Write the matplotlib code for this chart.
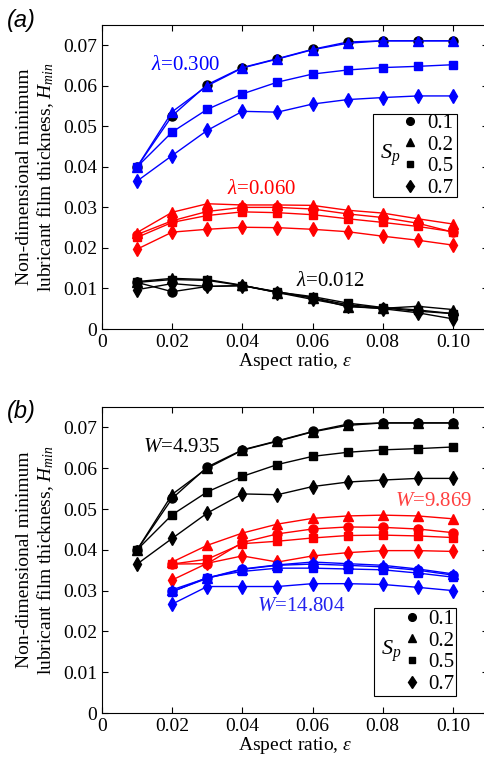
"""
Minimum film thickness H_min vs aspect ratio for several S_p values.
(a) grouped by lambda, (b) grouped by load W.
"""

import matplotlib.pyplot as plt
from matplotlib.lines import Line2D
from matplotlib.patches import Rectangle

plt.rcParams["font.family"] = ["Liberation Serif", "DejaVu Serif"]
plt.rcParams["mathtext.fontset"] = "custom"
plt.rcParams["mathtext.rm"] = "Liberation Serif"
plt.rcParams["mathtext.it"] = "Liberation Serif:italic"

eps = [0.01, 0.02, 0.03, 0.04, 0.05, 0.06, 0.07, 0.08, 0.09, 0.10]
eps_b = eps[1:]  # W=9.869 and W=14.804 start at 0.02

sp_labels = ["0.1", "0.2", "0.5", "0.7"]
sp_markers = ["o", "^", "s", "d"]
sp_sizes = [6.5, 6.5, 5.5, 7.5]

# (a) lambda = 0.300
lam300_01 = [0.0400, 0.0526, 0.0603, 0.0645, 0.0667, 0.0690, 0.0708, 0.0711, 0.0711, 0.0711]
lam300_02 = [0.0400, 0.0536, 0.0600, 0.0644, 0.0666, 0.0689, 0.0705, 0.0711, 0.0711, 0.0711]
lam300_05 = [0.0400, 0.0486, 0.0542, 0.0580, 0.0609, 0.0629, 0.0639, 0.0645, 0.0648, 0.0652]
lam300_07 = [0.0365, 0.0428, 0.0490, 0.0537, 0.0535, 0.0555, 0.0566, 0.0571, 0.0575, 0.0575]

# (a) lambda = 0.060
lam060_01 = [0.0233, 0.0267, 0.0290, 0.0300, 0.0300, 0.0296, 0.0284, 0.0275, 0.0261, 0.0239]
lam060_02 = [0.0238, 0.0288, 0.0309, 0.0306, 0.0306, 0.0305, 0.0293, 0.0286, 0.0272, 0.0259]
lam060_05 = [0.0226, 0.0263, 0.0280, 0.0289, 0.0287, 0.0282, 0.0272, 0.0263, 0.0253, 0.0240]
lam060_07 = [0.0197, 0.0239, 0.0246, 0.0251, 0.0250, 0.0246, 0.0240, 0.0229, 0.0219, 0.0207]

# (a) lambda = 0.012
lam012_01 = [0.0115, 0.0092, 0.0105, 0.0107, 0.0092, 0.0077, 0.0060, 0.0052, 0.0044, 0.0038]
lam012_02 = [0.0117, 0.0125, 0.0122, 0.0108, 0.0090, 0.0077, 0.0055, 0.0051, 0.0056, 0.0048]
lam012_05 = [0.0115, 0.0122, 0.0120, 0.0107, 0.0091, 0.0080, 0.0064, 0.0053, 0.0047, 0.0038]
lam012_07 = [0.0097, 0.0112, 0.0105, 0.0107, 0.0090, 0.0073, 0.0057, 0.0050, 0.0040, 0.0025]

# (b) W = 4.935 (same curves as lambda = 0.300)
w4935_01 = lam300_01
w4935_02 = lam300_02
w4935_05 = lam300_05
w4935_07 = lam300_07

# (b) W = 9.869
w9869_01 = [0.0365, 0.0366, 0.0418, 0.0439, 0.0451, 0.0456, 0.0455, 0.0451, 0.0442]
w9869_02 = [0.0370, 0.0411, 0.0441, 0.0463, 0.0477, 0.0483, 0.0485, 0.0483, 0.0476]
w9869_05 = [0.0365, 0.0377, 0.0415, 0.0421, 0.0429, 0.0435, 0.0436, 0.0434, 0.0430]
w9869_07 = [0.0326, 0.0367, 0.0385, 0.0370, 0.0385, 0.0393, 0.0398, 0.0398, 0.0396]

# (b) W = 14.804
w14804_01 = [0.0298, 0.0330, 0.0352, 0.0362, 0.0365, 0.0362, 0.0358, 0.0350, 0.0338]
w14804_02 = [0.0302, 0.0331, 0.0353, 0.0363, 0.0370, 0.0366, 0.0362, 0.0353, 0.0341]
w14804_05 = [0.0297, 0.0332, 0.0347, 0.0355, 0.0355, 0.0353, 0.0351, 0.0343, 0.0333]
w14804_07 = [0.0267, 0.0310, 0.0310, 0.0310, 0.0317, 0.0317, 0.0315, 0.0308, 0.0300]

xticks = [0, 0.02, 0.04, 0.06, 0.08, 0.10]
xtick_labels = ["0", "0.02", "0.04", "0.06", "0.08", "0.10"]
yticks = [0, 0.01, 0.02, 0.03, 0.04, 0.05, 0.06, 0.07]
ytick_labels = ["0", "0.01", "0.02", "0.03", "0.04", "0.05", "0.06", "0.07"]

FS = 14

fig = plt.figure(figsize=(4.85, 7.61), dpi=100)
ax_a = fig.add_axes([102 / 485, 1 - 329 / 761, 386 / 485, 304 / 761])
ax_b = fig.add_axes([102 / 485, 1 - 713 / 761, 386 / 485, 306 / 761])


def draw_group(ax, x, series, color, circle_face=None):
    for ys, m, ms in zip(series, sp_markers, sp_sizes):
        face = circle_face if (m == "o" and circle_face) else color
        ax.plot(x, ys, color=color, lw=1, marker=m, ms=ms,
                mfc=face, mec=face)


draw_group(ax_a, eps, [lam300_01, lam300_02, lam300_05, lam300_07], "#0000ff", circle_face="black")
draw_group(ax_a, eps, [lam060_01, lam060_02, lam060_05, lam060_07], "#ff0000")
draw_group(ax_a, eps, [lam012_01, lam012_02, lam012_05, lam012_07], "black")

draw_group(ax_b, eps, [w4935_01, w4935_02, w4935_05, w4935_07], "black")
draw_group(ax_b, eps_b, [w9869_01, w9869_02, w9869_05, w9869_07], "#ff0000")
draw_group(ax_b, eps_b, [w14804_01, w14804_02, w14804_05, w14804_07], "#0000ff")

ax_a.text(0.0140, 0.0649, r"$\lambda$=0.300", color="#0000ff", fontsize=FS + 1, va="center")
ax_a.text(0.0356, 0.0344, r"$\lambda$=0.060", color="#ff0000", fontsize=FS + 1, va="center")
ax_a.text(0.0553, 0.0116, r"$\lambda$=0.012", color="black", fontsize=FS + 1, va="center")

ax_b.text(0.0117, 0.0650, r"$W$=4.935", color="black", fontsize=FS + 1, va="center")
ax_b.text(0.0835, 0.0519, r"$W$=9.869", color="#ff4040", fontsize=FS + 1, va="center")
ax_b.text(0.0442, 0.0261, r"$W$=14.804", color="#2222ee", fontsize=FS + 1, va="center")

for ax, box in ((ax_a, (0.702, 0.434, 0.218, 0.273)),
                (ax_b, (0.705, 0.057, 0.212, 0.287))):
    ax.set_xlim(0, 0.11)
    ax.set_ylim(0, 0.075)
    ax.set_xticks(xticks)
    ax.set_xticklabels(xtick_labels)
    ax.set_yticks(yticks)
    ax.set_yticklabels(ytick_labels)
    ax.tick_params(direction="in", top=True, right=True, labelsize=FS, length=4)
    ax.set_xlabel(r"Aspect ratio, $\varepsilon$", fontsize=FS, labelpad=0)
    ax.set_ylabel("Non-dimensional minimum\nlubricant film thickness, $H_{min}$",
                  fontsize=FS, labelpad=5, linespacing=1.15)

    # legend box with S_p label on the left
    ax.add_patch(Rectangle((box[0], box[1]), box[2], box[3], transform=ax.transAxes,
                           fill=True, fc="white", ec="black", lw=0.8, zorder=5))
    ax.text(box[0] + 0.045, box[1] + box[3] / 2, "$S_p$", transform=ax.transAxes,
            fontsize=FS + 2, ha="center", va="center", zorder=6)
    handles = [Line2D([], [], ls="none", marker=m, ms=ms * 0.85, color="black")
               for m, ms in zip(sp_markers, sp_sizes)]
    leg = ax.legend(handles, sp_labels, frameon=False, fontsize=FS + 1,
                    loc="center left",
                    bbox_to_anchor=(box[0] + 0.07, box[1] + box[3] / 2),
                    handlelength=1.0, handletextpad=0.3, labelspacing=0.1,
                    borderpad=0, borderaxespad=0)
    leg.set_zorder(7)

fig.text(0.015, 0.973, "(a)", family="Liberation Sans", style="italic", fontsize=17, va="center")
fig.text(0.015, 0.459, "(b)", family="Liberation Sans", style="italic", fontsize=17, va="center")

plt.savefig("out.png", dpi=100)
